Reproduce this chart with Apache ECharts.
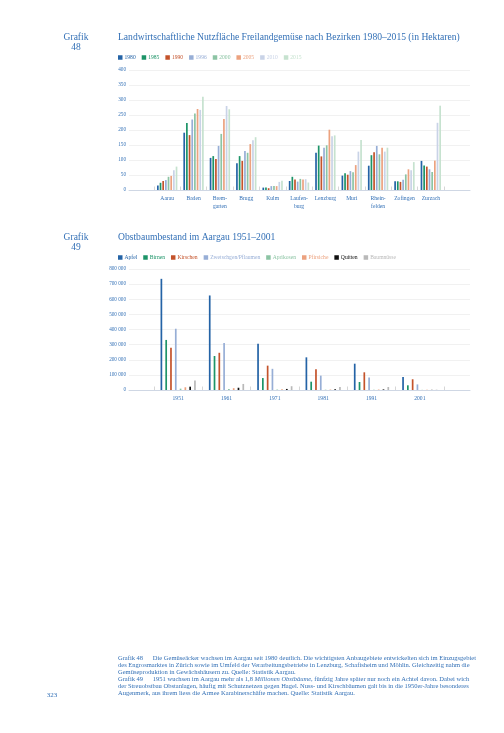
<!DOCTYPE html>
<html><head><meta charset="utf-8">
<script src="https://cdn.jsdelivr.net/npm/echarts@6/dist/echarts.min.js"></script>
<style>html,body{margin:0;padding:0;background:#fff}#c{width:504px;height:733px}</style>
</head><body><div id="c"></div>
<script>
// ---- Chart 48 data ----
const districts = ['Aarau','Baden','Brem-\ngarten','Brugg','Kulm','Laufen-\nburg','Lenzburg','Muri','Rhein-\nfelden','Zofingen','Zurzach'];
const years = ['1980','1985','1990','1996','2000','2005','2010','2015'];
const v1980 = [15,191,107,89,8,30,124,48,81,29,97];
const v1985 = [24,223,113,113,8,44,148,56,116,29,82];
const v1990 = [30,183,103,97,6,35,112,51,126,27,78];
const v1996 = [33,235,147,130,13,28,141,63,147,34,69];
const v2000 = [44,255,187,124,13,37,149,59,119,52,60];
const v2005 = [47,270,237,153,13,35,201,83,141,69,98];
const v2010 = [66,267,280,166,27,36,179,128,128,66,224];
const v2015 = [78,311,269,176,31,25,182,167,141,93,281];
const yTicks1 = [0,50,100,150,200,250,300,350,400];

// ---- Chart 49 data ----
const decades = ['1951','1961','1971','1981','1991','2001'];
const fruits = ['Apfel','Birnen','Kirschen','Zwetschgen/Pflaumen','Aprikosen','Pfirsiche','Quitten','Baumnüsse'];
const apfel = [735000,625000,305000,216000,174000,86000];
const birnen = [331000,225000,79000,55000,53000,31000];
const kirschen = [280000,246000,161000,137000,117000,71000];
const zwetschgen = [405000,311000,140000,95000,82000,37000];
const aprikosen = [9000,6000,3000,2000,2000,1000];
const pfirsiche = [18000,12000,5000,3000,3000,1000];
const quitten = [22000,15000,7000,5000,4000,1000];
const baumnuesse = [62000,40000,25000,20000,20000,2000];
const yTicks2 = [0,100000,200000,300000,400000,500000,600000,700000,800000];

const colors1 = ['#2463a6','#1d9468','#c4532b','#97aed6','#8cc4a4','#eca27f','#c9d3e7','#c6e2cf'];
const colors2 = ['#2463a6','#1d9468','#c4532b','#97aed6','#8cc4a4','#eca27f','#111111','#b9b9b9'];
const blue = '#3370b6';
const FONT = "'Liberation Serif','DejaVu Serif',serif";

const vals1 = [v1980,v1985,v1990,v1996,v2000,v2005,v2010,v2015];
const vals2 = [apfel,birnen,kirschen,zwetschgen,aprikosen,pfirsiche,quitten,baumnuesse];

function fmt(v){ return String(v).replace(/\B(?=(\d{3})+(?!\d))/g,' '); }

const grids = [
  {left:129, right:34, top:70, bottom:543},   // 0 background chart 1
  {left:154, right:60, top:70, bottom:543},   // 1 bars chart 1
  {left:129, right:34, top:269, bottom:343},  // 2 background chart 2
  {left:154, right:60, top:269, bottom:343}   // 3 bars chart 2
];

function bgX(gi){
  return {gridIndex:gi, type:'value', min:0, max:1, axisLine:{show:true, lineStyle:{color:'#cfd7e4', width:1}},
    axisTick:{show:false}, axisLabel:{show:false}, splitLine:{show:false}};
}
function catX(gi, data){
  return {gridIndex:gi, type:'category', data:data, axisLine:{show:false},
    axisTick:{show:true, inside:true, length:3.5, lineStyle:{color:'#cccccc', width:0.8}},
    axisLabel:{interval:0, color:blue, fontFamily:FONT, fontSize:5.6, margin:5, lineHeight:7.5}, splitLine:{show:false}};
}
function valY(gi, max, interval, show){
  return {gridIndex:gi, type:'value', min:0, max:max, interval:interval,
    axisLine:{show:false}, axisTick:{show:false},
    axisLabel:{show:show, color:blue, fontFamily:FONT, fontSize:5.2, margin:3, formatter:v=>fmt(v)},
    splitLine:{show:show, lineStyle:{color:'#eeeeee', width:0.8}}};
}

const series = [];
years.forEach((y,i)=>{
  series.push({name:y, type:'bar', xAxisIndex:1, yAxisIndex:1, data:vals1[i], barWidth:1.7, barGap:'57%',
    itemStyle:{color:colors1[i]}, silent:true});
});
fruits.forEach((f,i)=>{
  series.push({name:f, type:'bar', xAxisIndex:3, yAxisIndex:3, data:vals2[i], barWidth:1.7, barGap:'182%',
    itemStyle:{color:colors2[i]}, silent:true});
});

const legendCommon = {orient:'horizontal', itemWidth:4.5, itemHeight:4.5, itemGap:6, icon:'rect',
  textStyle:{fontFamily:FONT, fontSize:5.6, padding:[0,0,0,-3]}};

const captions = [
  'Grafik 48      Die Gemüseäcker wachsen im Aargau seit 1980 deutlich. Die wichtigsten Anbaugebiete entwickelten sich im Einzugsgebiet',
  'des Engrosmarktes in Zürich sowie im Umfeld der Verarbeitungsbetriebe in Lenzburg, Schafisheim und Möhlin. Gleichzeitig nahm die',
  'Gemüseproduktion in Gewächshäusern zu. Quelle: Statistik Aargau.',
  'Grafik 49      1951 wuchsen im Aargau mehr als 1,8 {i|Millionen Obstbäume}, fünfzig Jahre später nur noch ein Achtel davon. Dabei wich',
  'der Streuobstbau Obstanlagen, häufig mit Schutznetzen gegen Hagel. Nuss- und Kirschbäumen galt bis in die 1950er-Jahre besonderes',
  'Augenmerk, aus ihrem liess die Armee Karabinerschäfte machen. Quelle: Statistik Aargau.'
];

const graphics = [];
function txt(x,y,text,size,align){
  graphics.push({type:'text', x:x, y:y, silent:true,
    style:{text:text, fill:blue, font:size+'px '+FONT, align:align||'left', verticalAlign:'middle',
      rich:{i:{fontStyle:'italic', fontSize:size, fontFamily:FONT, fill:blue}}}});
}
txt(76,37,'Grafik',9.5,'center');
txt(76,47,'48',9.5,'center');
txt(118,37,'Landwirtschaftliche Nutzfläche Freilandgemüse nach Bezirken 1980–2015 (in Hektaren)',9.6);
txt(76,237,'Grafik',9.5,'center');
txt(76,247,'49',9.5,'center');
txt(118,237,'Obstbaumbestand im Aargau 1951–2001',9.6);
captions.forEach((c,i)=>txt(118,658+i*7,c,6.5));
txt(52,695,'323',7,'center');

const chart = echarts.init(document.getElementById('c'), null, {renderer:'canvas'});
chart.setOption({
  animation:false,
  grid:grids,
  xAxis:[bgX(0), catX(1, districts), bgX(2), catX(3, decades)],
  yAxis:[valY(0,400,50,true), valY(1,400,50,false), valY(2,800000,100000,true), valY(3,800000,100000,false)],
  legend:[
    Object.assign({}, legendCommon, {left:113, top:49.5, data:years.map((y,i)=>({name:y, textStyle:{color:colors1[i]}}))}),
    Object.assign({}, legendCommon, {left:113, top:249.5, data:fruits.map((f,i)=>({name:f, textStyle:{color:colors2[i]}}))})
  ],
  series:series,
  graphic:graphics
});
</script></body></html>
